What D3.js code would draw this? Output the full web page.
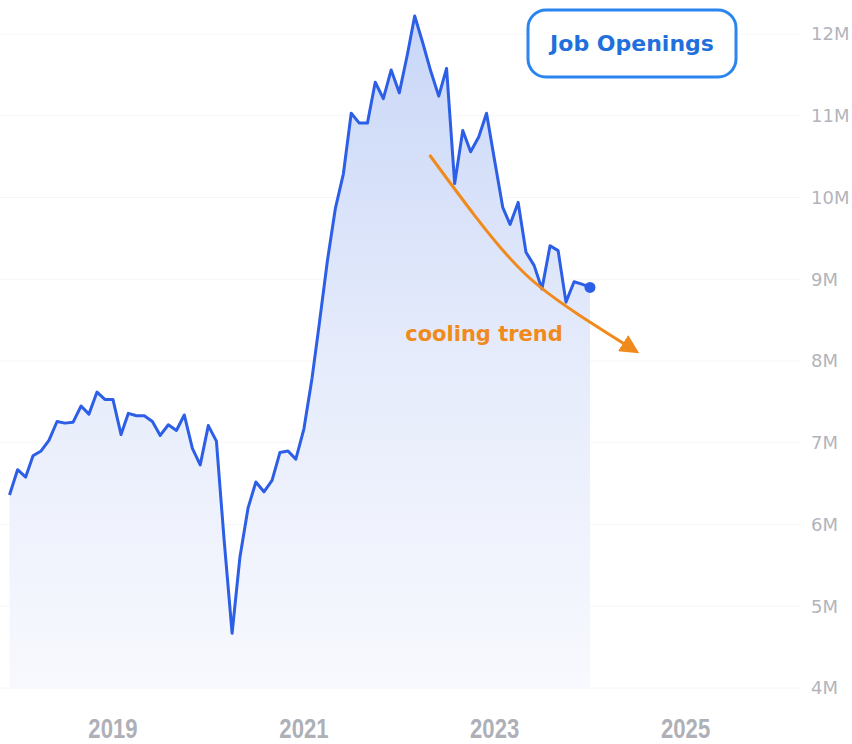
<!DOCTYPE html>
<html>
<head>
<meta charset="utf-8">
<script src="https://cdn.jsdelivr.net/npm/d3@7"></script>
<style>
  body { margin: 0; background: #fff; }
  svg { display: block; }
</style>
</head>
<body>
<div id="chart"></div>
<script>
const width = 852, height = 744;

// Monthly job openings (millions), Dec 2017 .. Jan 2024
const firstMonth = "2017-12";
const openings = [
  6.36, 6.67, 6.58, 6.84, 6.90, 7.03, 7.26, 7.24, 7.25, 7.45, 7.35, 7.62, 7.53,
  7.53, 7.10, 7.36, 7.33, 7.33, 7.26, 7.09, 7.22, 7.15, 7.34, 6.93, 6.73,
  7.21, 7.02, 5.83, 4.67, 5.60, 6.20, 6.52, 6.40, 6.54, 6.88, 6.90, 6.80,
  7.17, 7.79, 8.46, 9.23, 9.86, 10.29, 11.03, 10.91, 10.91, 11.41, 11.21, 11.56,
  11.28, 11.75, 12.22, 11.89, 11.55, 11.24, 11.58, 10.17, 10.82, 10.56, 10.74, 11.03,
  10.45, 9.88, 9.67, 9.94, 9.33, 9.17, 8.88, 9.41, 9.35, 8.72, 8.97, 8.94,
  8.90
];

const yTicks = [4, 5, 6, 7, 8, 9, 10, 11, 12];
const yearTicks = ["2019", "2021", "2023", "2025"];

// hand-drawn "cooling trend" arrow
const trendDates = ["2022-04-27", "2022-10-19", "2023-04-26", "2023-11-17", "2024-06-25"];
const trendValues = [10.52, 9.77, 9.07, 8.57, 8.12];

const parseMonth = d3.timeParse("%Y-%m");
const parseDay = d3.timeParse("%Y-%m-%d");
const start = parseMonth(firstMonth);
const months = d3.timeMonth.range(start, d3.timeMonth.offset(start, openings.length));
const series = months.map((d, i) => ({ date: d, value: openings[i] }));

const x = d3.scaleTime()
  .domain([start, months[months.length - 1]])
  .range([9.5, 590]);

const y = d3.scaleLinear()
  .domain([4, 12])
  .range([688, 34]);

const svg = d3.select("#chart").append("svg")
  .attr("width", width)
  .attr("height", height);

const defs = svg.append("defs");

// Area fade
const grad = defs.append("linearGradient")
  .attr("id", "fade")
  .attr("gradientUnits", "userSpaceOnUse")
  .attr("x1", 0).attr("x2", 0)
  .attr("y1", y(12.3)).attr("y2", y(4));
grad.append("stop").attr("offset", 0).attr("stop-color", "#c8d6f7");
grad.append("stop").attr("offset", 0.5).attr("stop-color", "#e5ebfb");
grad.append("stop").attr("offset", 1).attr("stop-color", "#f8f9fe");

// Arrow head for the trend
defs.append("marker")
  .attr("id", "arrow")
  .attr("viewBox", "0 0 10 10")
  .attr("refX", 8)
  .attr("refY", 5)
  .attr("markerUnits", "userSpaceOnUse")
  .attr("markerWidth", 19)
  .attr("markerHeight", 19)
  .attr("orient", "auto")
  .append("path")
  .attr("d", "M0,0 L10,5 L0,10 z")
  .attr("fill", "#f08a1c");

// Grid lines (very faint)
svg.append("g")
  .selectAll("line")
  .data(yTicks)
  .enter().append("line")
  .attr("x1", 0)
  .attr("x2", 800)
  .attr("y1", d => y(d))
  .attr("y2", d => y(d))
  .attr("stroke", "#f6f6f8")
  .attr("stroke-width", 1);

// Area + line
const area = d3.area()
  .x(d => x(d.date))
  .y0(y(4))
  .y1(d => y(d.value));

const line = d3.line()
  .x(d => x(d.date))
  .y(d => y(d.value));

svg.append("path")
  .datum(series)
  .attr("d", area)
  .attr("fill", "url(#fade)");

svg.append("path")
  .datum(series)
  .attr("d", line)
  .attr("fill", "none")
  .attr("stroke", "#2d5fe6")
  .attr("stroke-width", 3)
  .attr("stroke-linejoin", "round");

const last = series[series.length - 1];
svg.append("circle")
  .attr("cx", x(last.date))
  .attr("cy", y(last.value))
  .attr("r", 5.5)
  .attr("fill", "#2d5fe6");

// Cooling trend annotation
const trend = trendDates.map((d, i) => ({ date: parseDay(d), value: trendValues[i] }));
svg.append("path")
  .datum(trend)
  .attr("d", d3.line().curve(d3.curveNatural).x(d => x(d.date)).y(d => y(d.value)))
  .attr("fill", "none")
  .attr("stroke", "#f08a1c")
  .attr("stroke-width", 3)
  .attr("marker-end", "url(#arrow)");

svg.append("text")
  .attr("x", 484)
  .attr("y", 341)
  .attr("text-anchor", "middle")
  .style("font-family", "'DejaVu Sans', sans-serif")
  .style("font-weight", "bold")
  .style("font-size", "21px")
  .attr("fill", "#f08a1c")
  .text("cooling trend");

// Y labels (right side)
svg.append("g")
  .selectAll("text")
  .data(yTicks)
  .enter().append("text")
  .attr("x", 811)
  .attr("y", d => y(d))
  .attr("dy", "0.35em")
  .style("font-family", "'DejaVu Sans', sans-serif")
  .style("font-size", "18px")
  .attr("fill", "#b3b4bb")
  .text(d => d + "M");

// X labels (narrow)
svg.append("g")
  .selectAll("text")
  .data(yearTicks)
  .enter().append("text")
  .attr("transform", d => "translate(" + x(parseMonth(d + "-01")) + ",738) scale(0.82,1)")
  .attr("text-anchor", "middle")
  .style("font-family", "'Liberation Sans', sans-serif")
  .style("font-weight", "bold")
  .style("font-size", "27px")
  .attr("fill", "#aeb0b8")
  .text(d => d);

// Legend badge
const badge = svg.append("g");
badge.append("rect")
  .attr("x", 528)
  .attr("y", 10)
  .attr("width", 208)
  .attr("height", 67)
  .attr("rx", 18)
  .attr("fill", "#fff")
  .attr("stroke", "#2a86ee")
  .attr("stroke-width", 3);
badge.append("text")
  .attr("x", 632)
  .attr("y", 43.5)
  .attr("dy", "0.35em")
  .attr("text-anchor", "middle")
  .style("font-family", "'DejaVu Sans', sans-serif")
  .style("font-weight", "bold")
  .style("font-size", "22px")
  .attr("fill", "#1f6fdc")
  .text("Job Openings");
</script>
</body>
</html>
